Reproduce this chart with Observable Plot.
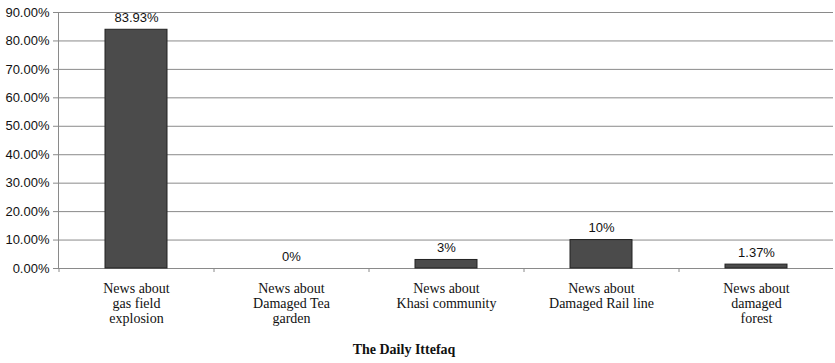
<!DOCTYPE html>
<html><head><meta charset="utf-8">
<script src="https://cdn.jsdelivr.net/npm/d3@7"></script>
<script src="https://cdn.jsdelivr.net/npm/@observablehq/plot@0.6"></script>
<style>body{margin:0;background:#fff}</style>
</head><body><div id="chart"></div>
<script>
const categories = [
  "News about\ngas field\nexplosion",
  "News about\nDamaged Tea\ngarden",
  "News about\nKhasi community",
  "News about\nDamaged Rail line",
  "News about\ndamaged\nforest"
];
const values = [83.93, 0, 3, 10, 1.37];
const valueLabels = ["83.93%", "0%", "3%", "10%", "1.37%"];
const yTicks = [0, 10, 20, 30, 40, 50, 60, 70, 80, 90];
const title = "The Daily Ittefaq";

const data = categories.map((c, i) => ({cat: c, value: values[i], label: valueLabels[i]}));
const W = 835, ML = 58, MR = 2;
const step = (W - ML - MR) / categories.length;

const plot = Plot.plot({
  width: W,
  height: 363,
  marginLeft: ML,
  marginRight: MR,
  marginTop: 12,
  marginBottom: 95,
  style: {background: "#fff", color: "#111"},
  x: {domain: categories, paddingInner: 0.6, paddingOuter: 0.3},
  y: {domain: [0, 90]},
  marks: [
    Plot.gridY(yTicks, {stroke: "#8a8a8a", strokeOpacity: 1, strokeWidth: 1}),
    Plot.ruleY([0], {stroke: "#8a8a8a"}),
    Plot.frame({anchor: "left", stroke: "#8a8a8a"}),
    Plot.axisY({ticks: yTicks, tickSize: 5, tickPadding: 4, tickFormat: d => d.toFixed(2) + "%",
      fontSize: 13, fontFamily: "Liberation Sans, Arial, sans-serif", stroke: "#8a8a8a", fill: "#111", label: null}),
    Plot.axisX({tickSize: 4, tickFormat: null, dx: -step / 2, stroke: "#8a8a8a", label: null}),
    Plot.axisX({tickSize: 0, tickPadding: 14, fontSize: 14, lineHeight: 1.08,
      fontFamily: "Liberation Serif, Times New Roman, serif", fill: "#111", label: null}),
    Plot.barY(data, {x: "cat", y: "value", fill: "#4b4b4b", stroke: "#222", strokeWidth: 1}),
    Plot.text(data, {x: "cat", y: "value", text: "label", dy: -12, fontSize: 13,
      fontFamily: "Liberation Sans, Arial, sans-serif", fill: "#111"}),
    Plot.text([title], {frameAnchor: "bottom", dx: -42, dy: 85, fontSize: 14, fontWeight: "bold",
      fontFamily: "Liberation Serif, Times New Roman, serif", fill: "#111"})
  ]
});
document.getElementById("chart").appendChild(plot);
</script>
</body></html>
